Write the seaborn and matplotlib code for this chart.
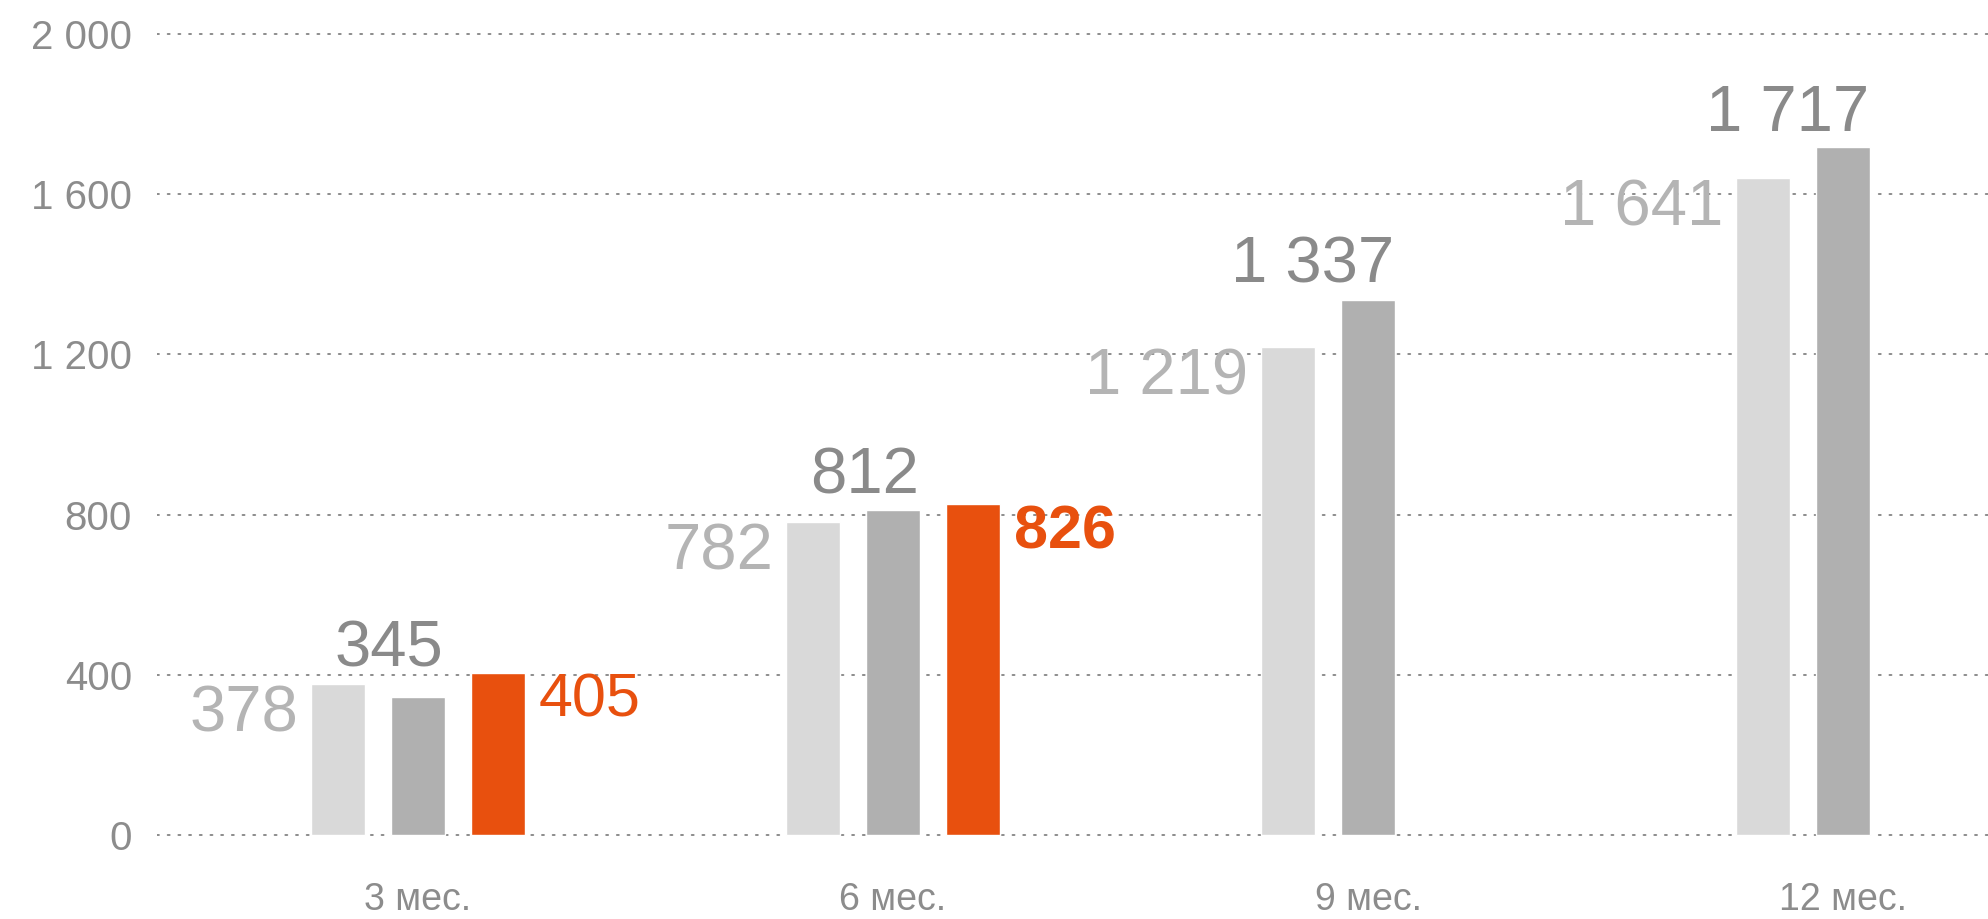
import numpy as np
import pandas as pd
import matplotlib.pyplot as plt
import seaborn as sns

# ---------- data ----------
periods = ["3 мес.", "6 мес.", "9 мес.", "12 мес."]
series = ["series_1", "series_2", "series_3"]

values_light = [378, 782, 1219, 1641]
values_dark = [345, 812, 1337, 1717]
values_orange = [405, 826, np.nan, np.nan]

y_ticks = [0, 400, 800, 1200, 1600, 2000]
bold_period = "6 мес."

# ---------- style ----------
colors = {"series_1": "#d9d9d9", "series_2": "#b0b0b0", "series_3": "#e8500e"}
label_colors = {"series_1": "#b4b4b4", "series_2": "#8a8a8a", "series_3": "#e8500e"}
axis_grey = "#8c8c8c"

sns.set_style("white")
plt.rcParams['font.family'] = ['Liberation Sans', 'DejaVu Sans']
plt.rcParams['lines.dash_capstyle'] = 'round'


def fmt(v):
    return f"{int(v):,}".replace(",", " ")


df = pd.DataFrame({
    "period": periods * 3,
    "series": [s for s in series for _ in periods],
    "value": values_light + values_dark + values_orange,
}).dropna()

fig = plt.figure(figsize=(19.88, 9.19), dpi=100)
ax = fig.add_axes([0.079, 0.0897, 0.921, 0.875])

sns.barplot(data=df, x="period", y="value", hue="series",
            order=periods, hue_order=series, palette=colors,
            width=0.505, gap=0.325, saturation=1, errorbar=None,
            legend=False, ax=ax)

ax.set_xlim(-0.549, 3.305)
ax.set_ylim(-4, 2004)
ax.set_yticks(y_ticks)
ax.set_yticklabels([fmt(t) for t in y_ticks])
ax.set_xlabel("")
ax.set_ylabel("")
ax.set_axisbelow(True)
ax.yaxis.grid(True, color=axis_grey, linestyle=(0, (1, 4.5)), linewidth=1.4)
ax.xaxis.grid(False)
sns.despine(ax=ax, left=True, bottom=True)
ax.tick_params(axis="y", length=0, pad=18, labelsize=29, labelcolor=axis_grey)
ax.tick_params(axis="x", length=0, pad=33, labelsize=27, labelcolor=axis_grey)

# ---------- value labels ----------
light_bars, dark_bars, orange_bars = ax.containers[:3]

for j, bar in enumerate(light_bars):
    ax.annotate(fmt(values_light[j]), xy=(bar.get_x(), values_light[j]),
                xytext=(-9, -34.6), textcoords="offset points",
                ha="right", va="baseline", fontsize=47,
                color=label_colors["series_1"])

for j, bar in enumerate(dark_bars):
    top = max(values_light[j], values_dark[j])
    ax.annotate(fmt(values_dark[j]), xy=(bar.get_x() + bar.get_width(), top),
                xytext=(-1, 12), textcoords="offset points",
                ha="right", va="baseline", fontsize=47,
                color=label_colors["series_2"])

orange_periods = [p for p, v in zip(periods, values_orange) if not np.isnan(v)]
orange_vals = [v for v in values_orange if not np.isnan(v)]
for bar, p, v in zip(orange_bars, orange_periods, orange_vals):
    ax.annotate(fmt(v), xy=(bar.get_x() + bar.get_width(), v),
                xytext=(10, -31.7), textcoords="offset points",
                ha="left", va="baseline", fontsize=44,
                fontweight="bold" if p == bold_period else "normal",
                color=label_colors["series_3"])

plt.savefig("out.png", dpi=100)
plt.close()
